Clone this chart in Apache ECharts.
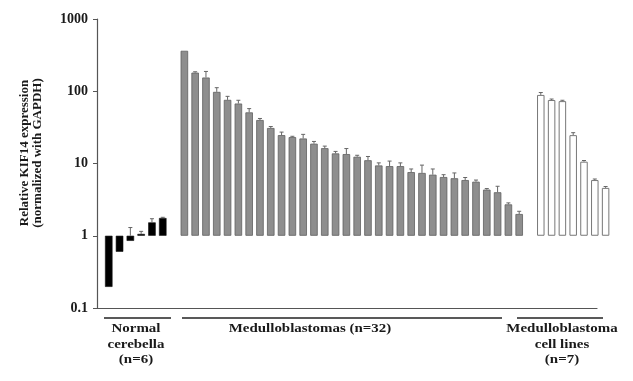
<!DOCTYPE html>
<html>
<head>
<meta charset="utf-8">
<script src="https://cdn.jsdelivr.net/npm/echarts@6/dist/echarts.min.js"></script>
<style>
  html, body { margin: 0; padding: 0; background: #fff; }
  #chart-panel { width: 633px; height: 381px; }
</style>
</head>
<body>
<div id="chart-panel"></div>
<script>
// group values (relative expression, log scale, bars grow from 1)
var normalVals = [0.196, 0.6, 0.85, 1.06, 1.53, 1.76]
var normalHi = [null, null, 1.3, 1.15, 1.72, 1.8]

var mbVals = [363, 181, 155, 98, 76, 67.6, 51, 40, 31, 24.7, 23.2, 22.2, 18.8, 16.3, 13.8, 13.5,
    12.4, 11.1, 9.4, 9.2, 9.2, 7.6, 7.4, 7.0, 6.5, 6.25, 5.9, 5.6, 4.35, 4.0, 2.72, 2.0]
var mbHi = [null, 186, 188, 112, 85, 75, 57.5, 42, 32.5, 27.2, 23.8, 25.3, 20.2, 17.4, 14.7, 16.1,
    13.0, 12.5, 10.2, 10.8, 10.2, 8.4, 9.5, 8.4, 7.0, 7.4, 6.4, 5.9, 4.5, 4.84, 2.85, 2.18]

var cellVals = [89, 75.6, 73, 24.7, 10.6, 5.9, 4.6]
var cellHi = [96, 78, 75, 26.7, 11, 6.1, 4.8]

var yTicks = [0.1, 1, 10, 100, 1000]

// one empty slot between groups
var categories = []
var normalData = [], mbData = [], cellData = [], errData = []
function addGroup(vals, his, target) {
    vals.forEach(function (v, i) {
        var idx = categories.length
        categories.push('c' + idx)
        normalData.push(target === 'n' ? v : null)
        mbData.push(target === 'm' ? v : null)
        cellData.push(target === 'c' ? v : null)
        if (his[i] != null) errData.push([idx, v < 1 ? 1 : v, his[i]])
    })
}
function addGap() {
    categories.push('gap' + categories.length)
    normalData.push(null); mbData.push(null); cellData.push(null)
}
addGroup(normalVals, normalHi, 'n')
addGap()
addGroup(mbVals, mbHi, 'm')
addGap()
addGroup(cellVals, cellHi, 'c')

var serif = '"Liberation Serif", "DejaVu Serif", serif'

function groupLabel(x, text) {
    return {
        type: 'text',
        x: x,
        y: 321,
        scaleX: 1.15,
        style: {
            text: text,
            font: 'bold 13px ' + serif,
            fill: '#1a1a1a',
            align: 'center',
            lineHeight: 15.5
        }
    }
}

var chartOption = {
    backgroundColor: '#fff',
    animation: false,
    grid: [{
        left: 103.35,
        right: 22,
        top: 19,
        bottom: 73
    }, {
        left: 97,
        right: 36,
        top: 19,
        bottom: 73
    }],
    xAxis: [{
        type: 'category',
        gridIndex: 0,
        data: categories,
        axisLine: { show: false },
        axisTick: { show: false },
        axisLabel: { show: false }
    }, {
        type: 'value',
        gridIndex: 1,
        min: 0,
        max: 1,
        axisLine: { show: true, lineStyle: { color: '#555', width: 1.2 } },
        axisTick: { show: false },
        axisLabel: { show: false },
        splitLine: { show: false }
    }],
    yAxis: [{
        type: 'log',
        gridIndex: 0,
        logBase: 10,
        min: 0.1,
        max: 1000,
        offset: 6.35,
        axisLine: { show: true, lineStyle: { color: '#555', width: 1.2 } },
        axisTick: { show: true, length: 4, lineStyle: { color: '#555' } },
        splitLine: { show: false },
        axisLabel: {
            color: '#1a1a1a',
            fontFamily: serif,
            fontWeight: 'bold',
            fontSize: 14,
            margin: 9,
            formatter: function (v) {
                return yTicks.indexOf(+v) >= 0 ? String(+v) : ''
            }
        }
    }, {
        type: 'value',
        gridIndex: 1,
        show: false
    }],
    series: [{
        type: 'bar',
        data: normalData,
        barWidth: 7.5,
        barGap: '-100%',
        itemStyle: { color: '#000', borderColor: '#111', borderWidth: 0.6 }
    }, {
        type: 'bar',
        data: mbData,
        barWidth: 7.5,
        barGap: '-100%',
        itemStyle: { color: '#8e8e8e', borderColor: '#5f5f5f', borderWidth: 0.8 }
    }, {
        type: 'bar',
        data: cellData,
        barWidth: 7.5,
        barGap: '-100%',
        itemStyle: { color: '#fff', borderColor: '#777', borderWidth: 1 }
    }, {
        type: 'custom',
        data: errData,
        z: 5,
        renderItem: function (params, api) {
            var lo = api.coord([api.value(0), api.value(1)])
            var hi = api.coord([api.value(0), api.value(2)])
            var w = 2
            return {
                type: 'group',
                children: [{
                    type: 'line',
                    shape: { x1: lo[0], y1: lo[1], x2: hi[0], y2: hi[1] },
                    style: { stroke: '#666', lineWidth: 1 }
                }, {
                    type: 'line',
                    shape: { x1: hi[0] - w, y1: hi[1], x2: hi[0] + w, y2: hi[1] },
                    style: { stroke: '#666', lineWidth: 1 }
                }]
            }
        }
    }],
    graphic: [{
        type: 'text',
        x: 31,
        y: 153,
        rotation: Math.PI / 2,
        style: {
            text: 'Relative KIF14 expression\n(normalized with GAPDH)',
            font: 'bold 13px ' + serif,
            fill: '#1a1a1a',
            align: 'center',
            verticalAlign: 'middle',
            lineHeight: 13
        }
    }, {
        type: 'line',
        shape: { x1: 104, y1: 318, x2: 171, y2: 318 },
        style: { stroke: '#222', lineWidth: 1.5 }
    }, {
        type: 'line',
        shape: { x1: 182, y1: 318, x2: 502, y2: 318 },
        style: { stroke: '#222', lineWidth: 1.5 }
    }, {
        type: 'line',
        shape: { x1: 517, y1: 318, x2: 603, y2: 318 },
        style: { stroke: '#222', lineWidth: 1.5 }
    },
        groupLabel(136, 'Normal\ncerebella\n(n=6)'),
        groupLabel(310, 'Medulloblastomas (n=32)'),
        groupLabel(562, 'Medulloblastoma\ncell lines\n(n=7)')
    ]
};

var chartPanel = document.getElementById('chart-panel')
var myChart = echarts.init(chartPanel, null, { renderer: 'canvas' });
myChart.setOption(chartOption);
</script>
</body>
</html>
